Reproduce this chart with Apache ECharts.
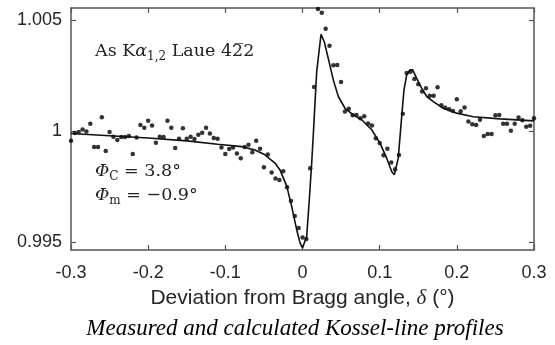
<!DOCTYPE html>
<html lang="en">
<head>
    <meta charset="UTF-8">
    <title>Kossel-line profiles</title>
    <style>
        * {
            margin: 0;
            padding: 0;
        }

        body {
            background-color: #fff;
        }

        #chart {
            width: 555px;
            height: 345px;
        }
    </style>
</head>
<body>
<div id="chart"></div>
<script src="https://cdn.jsdelivr.net/npm/echarts@6/dist/echarts.min.js"></script>
<script>
    // measured points: [deviation delta (deg), intensity ratio]
    var measured = [
        [-0.300, 0.99956], [-0.295, 0.99991], [-0.290, 0.99995], [-0.285, 1.00006], [-0.280, 0.99997],
        [-0.275, 1.00032], [-0.270, 0.99927], [-0.265, 0.99927], [-0.260, 1.00062], [-0.255, 0.99909],
        [-0.250, 0.99995], [-0.245, 0.99974], [-0.240, 0.99959], [-0.235, 0.99972], [-0.230, 0.99972],
        [-0.225, 0.99977], [-0.220, 0.99896], [-0.215, 0.99970], [-0.210, 1.00026], [-0.205, 1.00014],
        [-0.200, 1.00046], [-0.195, 1.00024], [-0.190, 0.99947], [-0.185, 0.99974], [-0.180, 0.99972],
        [-0.175, 1.00046], [-0.170, 1.00014], [-0.165, 0.99923], [-0.160, 0.99965], [-0.155, 1.00012],
        [-0.150, 0.99964], [-0.145, 0.99974], [-0.140, 0.99963], [-0.135, 0.99983], [-0.130, 0.99992],
        [-0.125, 1.00014], [-0.120, 0.99988], [-0.115, 0.99968], [-0.110, 0.99964], [-0.105, 0.99925],
        [-0.100, 0.99896], [-0.095, 0.99918], [-0.090, 0.99925], [-0.085, 0.99898], [-0.080, 0.99877],
        [-0.075, 0.99927], [-0.070, 0.99937], [-0.065, 0.99904], [-0.060, 0.99956], [-0.055, 0.99920],
        [-0.050, 0.99836], [-0.045, 0.99893], [-0.040, 0.99812], [-0.035, 0.99785], [-0.030, 0.99779],
        [-0.025, 0.99818], [-0.020, 0.99746], [-0.015, 0.99684], [-0.010, 0.99616], [-0.005, 0.99562],
        [0.000, 0.99519], [0.005, 0.99513], [0.010, 0.99832], [0.015, 1.00198], [0.020, 1.00550],
        [0.025, 1.00533], [0.030, 1.00460], [0.035, 1.00384], [0.040, 1.00296], [0.045, 1.00297],
        [0.050, 1.00220], [0.055, 1.00087], [0.060, 1.00100], [0.065, 1.00071], [0.070, 1.00072],
        [0.075, 1.00057], [0.080, 1.00066], [0.085, 1.00033], [0.090, 1.00024], [0.095, 0.99967],
        [0.100, 0.99945], [0.105, 0.99890], [0.110, 0.99920], [0.115, 0.99858], [0.120, 0.99827],
        [0.125, 0.99891], [0.130, 1.00077], [0.135, 1.00261], [0.140, 1.00267], [0.145, 1.00234],
        [0.150, 1.00210], [0.155, 1.00177], [0.160, 1.00192], [0.165, 1.00158], [0.170, 1.00158],
        [0.175, 1.00197], [0.180, 1.00116], [0.185, 1.00104], [0.190, 1.00098], [0.195, 1.00090],
        [0.200, 1.00143], [0.205, 1.00089], [0.210, 1.00105], [0.215, 1.00042], [0.220, 1.00030],
        [0.225, 1.00027], [0.230, 1.00050], [0.235, 0.99977], [0.240, 0.99986], [0.245, 0.99986],
        [0.250, 1.00071], [0.255, 1.00072], [0.260, 1.00032], [0.265, 1.00032], [0.270, 1.00001],
        [0.275, 1.00032], [0.280, 1.00060], [0.285, 1.00048], [0.290, 1.00019], [0.295, 1.00023],
        [0.300, 1.00057]
    ];

    // calculated profile
    var calculated = [
        [-0.3, 0.99988], [-0.25, 0.99978], [-0.2, 0.99968], [-0.15, 0.99955], [-0.11, 0.99940],
        [-0.0788, 0.99929], [-0.0616, 0.99914], [-0.0486, 0.99892], [-0.0421, 0.99873], [-0.0356, 0.99855],
        [-0.0292, 0.99824], [-0.0205, 0.99752], [-0.014, 0.99659], [-0.0075, 0.99554], [-0.0032, 0.99495],
        [0, 0.99472], [0.0054, 0.99524], [0.0088, 0.99689], [0.0119, 0.99855], [0.014, 0.99982],
        [0.0184, 1.00267], [0.0214, 1.00357], [0.024, 1.00435], [0.0282, 1.00402], [0.0334, 1.00327],
        [0.0399, 1.00230], [0.0464, 1.00155], [0.0551, 1.00102], [0.0658, 1.00072], [0.0767, 1.00050],
        [0.0897, 1.00005], [0.1004, 0.99945], [0.1091, 0.99877], [0.1156, 0.99817], [0.119, 0.99802],
        [0.1241, 0.99877], [0.1285, 1.00063], [0.1315, 1.00185], [0.135, 1.00252], [0.1393, 1.00275],
        [0.1428, 1.00275], [0.148, 1.00237], [0.1545, 1.00192], [0.161, 1.00155], [0.1695, 1.00132],
        [0.1825, 1.00102], [0.1998, 1.00080], [0.2213, 1.00064], [0.2559, 1.00054], [0.3, 1.00045]
    ];

    var xTicks = [-0.3, -0.2, -0.1, 0, 0.1, 0.2, 0.3];
    var xTickLabels = ['-0.3', '-0.2', '-0.1', '0', '0.1', '0.2', '0.3'];
    var yTicks = [0.995, 1, 1.005];
    var yTickLabels = ['0.995', '1', '1.005'];

    var axisColor = '#555';
    var textColor = '#262626';
    var mathFont = '"DejaVu Serif"';

    function boxAxis(pos, ticks, labels, min, max, showLabel) {
        return {
            type: 'value',
            position: pos,
            min: min,
            max: max,
            axisLine: {show: true, onZero: false, lineStyle: {color: axisColor, width: 1.5}},
            axisTick: {show: true, inside: true, length: 5, customValues: ticks, lineStyle: {color: axisColor, width: 1.2}},
            axisLabel: {
                show: showLabel,
                customValues: ticks,
                margin: (pos === 'bottom') ? 14 : 9,
                color: textColor,
                fontSize: 18,
                fontFamily: '"Liberation Sans", Arial',
                formatter: function (v) {
                    return labels[ticks.indexOf(v)];
                }
            },
            splitLine: {show: false}
        };
    }

    var xBottom = boxAxis('bottom', xTicks, xTickLabels, -0.3, 0.3, true);
    xBottom.name = 'Deviation from Bragg angle, {d|δ} (°)';
    xBottom.nameLocation = 'middle';
    xBottom.nameGap = 38;
    xBottom.nameTextStyle = {
        color: textColor,
        fontSize: 21,
        fontFamily: '"Liberation Sans", Arial',
        rich: {
            d: {fontFamily: '"Liberation Serif"', fontStyle: 'italic', fontSize: 21, color: textColor}
        }
    };

    var mathRich = {
        n: {fontFamily: mathFont, fontSize: 17.5, lineHeight: 24, fill: '#222'},
        i: {fontFamily: mathFont, fontStyle: 'italic', fontSize: 17.5, lineHeight: 24, fill: '#222'},
        s: {fontFamily: mathFont, fontSize: 12, lineHeight: 13, verticalAlign: 'bottom', fill: '#222'}
    };

    var mychart = echarts.init(document.getElementById('chart'));
    mychart.setOption({
        animation: false,
        backgroundColor: '#fff',
        grid: {
            left: 71,
            top: 8,
            width: 463,
            height: 242,
            outerBoundsMode: 'none'
        },
        xAxis: [
            xBottom,
            boxAxis('top', xTicks, xTickLabels, -0.3, 0.3, false)
        ],
        yAxis: [
            boxAxis('left', yTicks, yTickLabels, 0.99463, 1.00554, true),
            boxAxis('right', yTicks, yTickLabels, 0.99463, 1.00554, false)
        ],
        series: [
            {
                name: 'measured',
                type: 'scatter',
                data: measured,
                symbolSize: 4.5,
                itemStyle: {color: '#000'}
            },
            {
                name: 'calculated',
                type: 'line',
                data: calculated,
                showSymbol: false,
                lineStyle: {color: '#111', width: 1.6}
            }
        ],
        graphic: [
            {
                type: 'text',
                style: {
                    x: 95, y: 51, verticalAlign: 'middle',
                    text: '{n|As K}{i|α}{s|1,2}{n| Laue 42\u03052}',
                    rich: mathRich
                }
            },
            {
                type: 'text',
                style: {
                    x: 95, y: 171, verticalAlign: 'middle',
                    text: '{i|Φ}{s|C}{n| = 3.8°}',
                    rich: mathRich
                }
            },
            {
                type: 'text',
                style: {
                    x: 95, y: 195, verticalAlign: 'middle',
                    text: '{i|Φ}{s|m}{n| = −0.9°}',
                    rich: mathRich
                }
            },
            {
                type: 'text',
                style: {
                    x: 295, y: 329, align: 'center', verticalAlign: 'middle',
                    text: 'Measured and calculated Kossel-line profiles',
                    font: 'italic 23px "Liberation Serif"',
                    fill: '#000'
                }
            }
        ]
    });
</script>
</body>
</html>
